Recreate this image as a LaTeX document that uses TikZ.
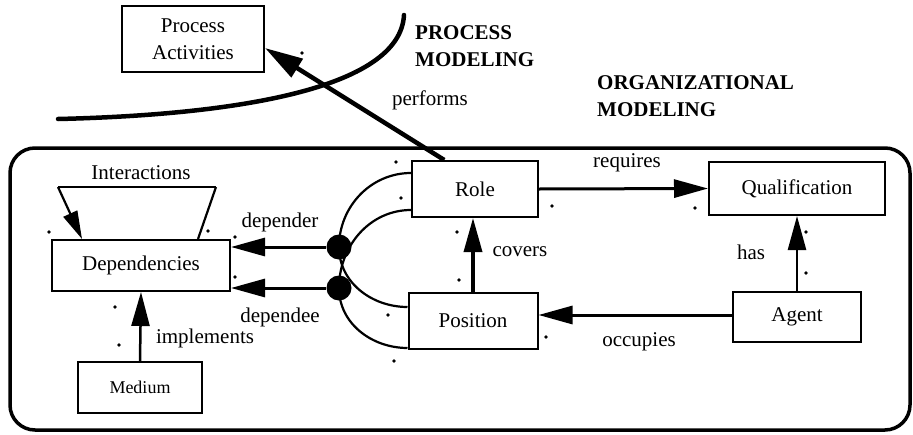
\documentclass[tikz,border=0pt]{standalone}
\usepackage{fontspec}
\setmainfont{Liberation Serif}
\usetikzlibrary{arrows.meta,calc}

\tikzset{
  box/.style={draw, line width=2pt, inner sep=0pt, align=center},
  head/.style={font=\fontsize{21}{27}\selectfont\bfseries, align=left, anchor=west, inner sep=0pt},
  arr/.style={line width=3pt, -{Triangle[length=34pt,width=18pt]}},
  hub/.style={circle, fill, inner sep=0pt, minimum size=25pt},
  speck/.style={fill, circle, inner sep=0pt, minimum size=3.6pt},
}

\begin{document}
\begin{tikzpicture}[x=1pt,y=-1pt,font=\fontsize{21}{27}\selectfont]
\useasboundingbox (0,0) rectangle (913,434);

\draw[line width=3.5pt, rounded corners=25pt] (10,148) rectangle (910,430);
\draw[line width=4.5pt, line cap=round] (404,15) .. controls (400,90) and (230,115) .. (58,119);

\node[box, minimum width=142pt, minimum height=66pt] (proc) at (193,39) {Process\\Activities};
\node[box, minimum width=126pt, minimum height=56pt] (role) at (475,189) {Role};
\node[box, minimum width=129pt, minimum height=56pt] (pos) at (473,321) {Position};
\node[box, minimum width=176pt, minimum height=53pt] (qual) at (797,188.5) {Qualification};
\node[box, minimum width=128pt, minimum height=50pt] (agent) at (797,317) {Agent};
\node[box, minimum width=178pt, minimum height=51pt] (deps) at (141,265.5) {Dependencies};
\node[box, minimum width=124pt, minimum height=51pt, font=\fontsize{18}{22}\selectfont] (medium) at (140,387.5) {Medium};

\node[head] (procmod) at (415,46.5) {PROCESS\\MODELING};
\node[head] (orgmod) at (597,96.5) {ORGANIZATIONAL\\MODELING};

\draw[line width=2.2pt] ([yshift=16pt]role.west) to[out=180,in=90] (339,247) to[out=-90,in=180] ([yshift=14pt]pos.west);
\draw[line width=2.2pt] ([yshift=-21pt]role.west) to[out=180,in=90] (339,288) to[out=-90,in=180] ([yshift=-27pt]pos.west);
\node[hub] (dr) at (339,247) {};
\node[hub] (de) at (339,288) {};

\draw[arr] (dr) -- (dr -| deps.east);
\draw[arr] (de) -- (de -| deps.east);
\draw[arr] (role.east) -- (qual.west);
\draw[arr, line width=3.5pt] (pos.north) -- (pos.north |- role.south);
\draw[arr] (agent.west |- 0,315) -- (pos.east |- 0,315);
\draw[arr, line width=2.5pt] (agent.north) -- (qual.south);
\draw[arr, line width=2.5pt] (medium.north) -- (deps.south);
\draw[line width=4.5pt, -{Triangle[length=38pt,width=21pt]}] ($(role.north west)!0.26!(role.north east)$) -- ([yshift=-9pt]proc.east);

\coordinate (tl) at (58,187);
\coordinate (tr) at (216,187);
\draw[line width=2.2pt] (tl) -- (tr);
\draw[line width=2.2pt, -{Triangle[length=28pt,width=15pt]}] (tl) -- ([xshift=-59pt]deps.north);
\draw[line width=2.2pt] (tr) -- ([xshift=57pt]deps.north);

\node[] (inter) at (141,173) {Interactions};
\node[] (performs) at (430,100) {performs};
\node[] (requires) at (627,163) {requires};
\node[] (covers) at (520,252) {covers};
\node[] (has) at (751,252) {has};
\node[] (occupies) at (639,342) {occupies};
\node[] (depender) at (280,222) {depender};
\node[] (dependee) at (280,317) {dependee};
\node[] (implements) at (205,338) {implements};

\foreach \p in {(302,53),(396,162),(401,198),(49,232),(208,231),(235,237),(235,277),(115,307),(119,345),(388,315),(394,361),(457,232),(459,280),(552,206),(695,208),(806,232),(806,273),(546,337)}
  \node[speck] at \p {};

\end{tikzpicture}
\end{document}
